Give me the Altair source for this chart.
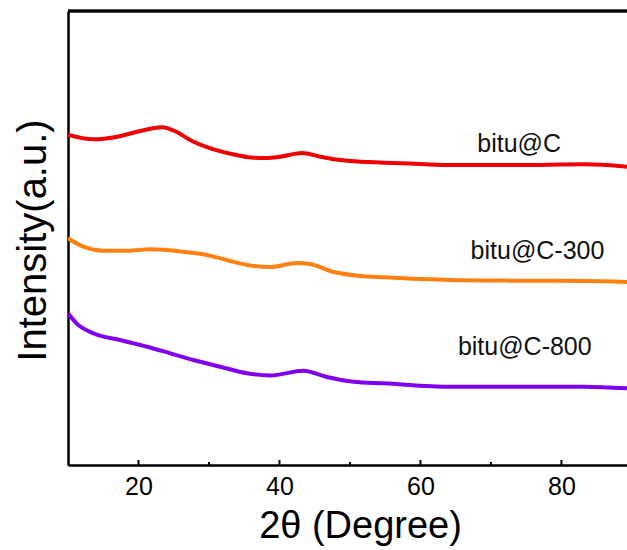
import altair as alt
import pandas as pd

# ---- data (2theta in degrees, intensity in a.u.) ----
red_x = [10, 13.6, 17, 19.8, 23.4, 25, 27.8, 30.2, 33.4, 36, 38, 40.1, 43.2, 45.8, 47.7, 50, 54.8, 60, 64.3, 73.7, 83.2, 89.3]
red_y = [330, 325.7, 328.3, 333.3, 337.7, 334.3, 323.3, 316.7, 310.7, 307.5, 307, 308.3, 312, 308.3, 305.7, 304, 302.3, 301, 300, 300, 300.7, 298.3]

orange_x = [10, 12.2, 15, 18.4, 21.6, 26.3, 29.7, 32.5, 35.4, 38.7, 42.5, 44.3, 47.7, 51.5, 54.8, 64.3, 73.7, 83.2, 89.3]
orange_y = [226.7, 218.3, 214.3, 214.3, 215.7, 213.3, 210, 205, 200, 198, 202, 201, 193, 189, 187.7, 185, 184.3, 184, 183]

purple_x = [10, 11.2, 13.6, 17.4, 21.2, 24.5, 27.8, 31.6, 35.4, 38.7, 43.4, 46.7, 50.5, 54.8, 64.3, 73.7, 83.2, 89.3]
purple_y = [151.7, 141.7, 131.7, 125, 118.3, 111.7, 105, 98.3, 91.7, 89.5, 94.3, 88, 83.3, 81.7, 78.3, 78.3, 78.3, 76.7]

series_names = ["bitu@C", "bitu@C-300", "bitu@C-800"]
series_colors = ["#F00000", "#FF8010", "#8000F0"]

label_x = [74.0, 76.6, 74.8]
label_y = [321, 214, 118]

major_ticks = [20, 40, 60, 80]
minor_ticks = [30, 50, 70]

X_DOMAIN = [10, 89.3]
Y_DOMAIN = [0, 454]
W, H = 559, 454
FONT = "Liberation Sans"

rows = []
for name, xs, ys in zip(series_names, [red_x, orange_x, purple_x], [red_y, orange_y, purple_y]):
    for i, (a, b) in enumerate(zip(xs, ys)):
        rows.append({"series": name, "theta": a, "intensity": b, "order": i})
df = pd.DataFrame(rows)

labels_df = pd.DataFrame({"series": series_names, "theta": label_x, "intensity": label_y})
major_df = pd.DataFrame({"t": major_ticks})
minor_df = pd.DataFrame({"t": minor_ticks})

xscale = alt.Scale(domain=X_DOMAIN, nice=False, zero=False)
yscale = alt.Scale(domain=Y_DOMAIN, nice=False, zero=False)
color_scale = alt.Scale(domain=series_names, range=series_colors)

lines = alt.Chart(df).mark_line(strokeWidth=4, interpolate="monotone", clip=True).encode(
    x=alt.X("theta:Q", scale=xscale,
            axis=alt.Axis(title="2θ (Degree)", values=major_ticks, ticks=False,
                          labelFontSize=25, labelPadding=9, labelColor="black", labelFont=FONT,
                          titleFont=FONT, titleFontSize=38, titleFontWeight="normal", titleColor="black",
                          titleBaseline="alphabetic", titleX=292, titleY=72, titleAlign="center",
                          domainColor="black", domainWidth=2.5, grid=False)),
    y=alt.Y("intensity:Q", scale=yscale,
            axis=alt.Axis(title="Intensity(a.u.)", labels=False, ticks=False, grid=False,
                          titleFont=FONT, titleFontSize=40, titleFontWeight="normal", titleColor="black",
                          titleAngle=-90, titleBaseline="alphabetic", titleX=-23, titleY=229,
                          titleAlign="center", domainColor="black", domainWidth=2.5)),
    color=alt.Color("series:N", scale=color_scale, legend=None),
    order="order:Q",
    detail="series:N",
)

texts = alt.Chart(labels_df).mark_text(font=FONT, fontSize=25, color="#111111",
                                       align="center", baseline="middle").encode(
    x=alt.X("theta:Q", scale=xscale),
    y=alt.Y("intensity:Q", scale=yscale),
    text="series:N",
)

major = alt.Chart(major_df).mark_rule(color="black", strokeWidth=2).encode(
    x=alt.X("t:Q", scale=xscale),
    y=alt.value(H),
    y2=alt.value(H - 5),
)
minor = alt.Chart(minor_df).mark_rule(color="black", strokeWidth=2).encode(
    x=alt.X("t:Q", scale=xscale),
    y=alt.value(H),
    y2=alt.value(H - 3),
)
top_line = alt.Chart(major_df).mark_rule(color="black", strokeWidth=2.5).encode(
    x=alt.value(0), x2=alt.value(W + 2), y=alt.value(0),
)

chart = alt.layer(lines, texts, major, minor, top_line).properties(
    width=W, height=H,
    autosize=alt.AutoSizeParams(type="none"),
    padding={"left": 68, "top": 11, "right": 0, "bottom": 85},
).configure_view(stroke=None).configure(background="white")

chart.save("out.html", embed_options={"renderer": "svg", "actions": False})
